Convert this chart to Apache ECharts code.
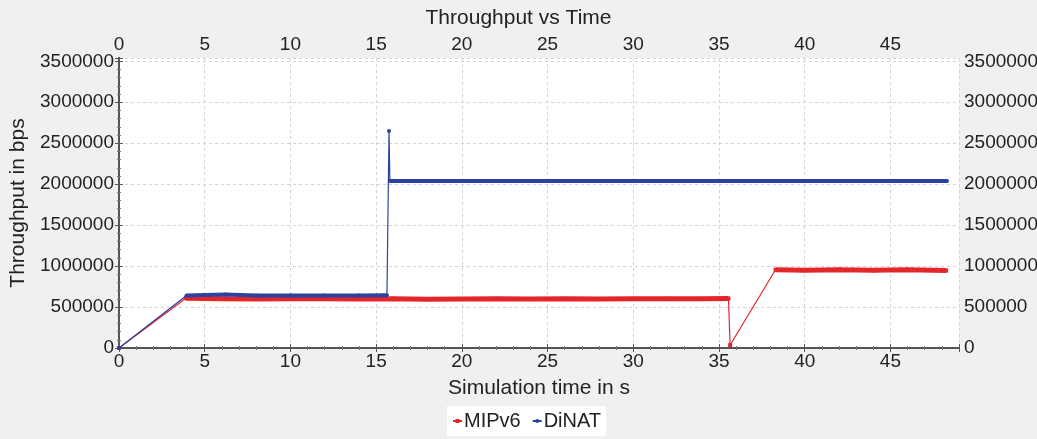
<!DOCTYPE html>
<html>
<head>
<meta charset="utf-8">
<script src="https://cdn.jsdelivr.net/npm/echarts@6/dist/echarts.min.js"></script>
<style>
  html, body { margin: 0; padding: 0; background: #f0f0f0; }
  #main { width: 1037px; height: 439px; }
</style>
</head>
<body>
<div id="main"></div>
<script>
// values
const timeMip = [0, 3.9, 6, 8, 10, 12, 14, 16, 18, 20, 22, 24, 26, 28, 30, 32, 34, 35.55, 35.65, 38.3, 40, 42, 44, 46, 48.25];
const mipv6   = [0, 608000, 600000, 598000, 600000, 602000, 598000, 600000, 596000, 598000, 600000, 597000, 600000, 598000, 600000, 602000, 600000, 605000, 36000, 955000, 950000, 955000, 950000, 955000, 945000];

const timeDinat = [0, 3.94, 6.2, 8, 10, 12, 14, 15.63, 15.75, 15.8, 20, 25, 30, 35, 40, 45, 48.3];
const dinat     = [0, 640000, 652000, 640000, 640000, 640000, 640000, 645000, 2650000, 2040000, 2040000, 2040000, 2040000, 2040000, 2040000, 2040000, 2040000];

// points that are single ramp/spike samples (no thick band there)
const mipSingles = [0, 18];
const dinatSingles = [0, 8];

const RED = '#e4262b';
const BLUE = '#2c42a0';
const FONT = 'Liberation Sans';

function pairs(t, v) { return t.map((x, i) => [x, v[i]]); }
function band(t, v, singles) { return t.map((x, i) => [x, singles.includes(i) ? '-' : v[i]]); }

const xBase = {
    type: 'value', min: 0, max: 49, interval: 5,
    axisLine: { show: true, lineStyle: { color: '#555', width: 2 } },
    axisTick: { show: true, length: 4, lineStyle: { color: '#555' } },
    minorTick: { show: true, splitNumber: 5, length: 2, lineStyle: { color: '#777' } },
    axisLabel: { color: '#222', fontSize: 19, fontFamily: FONT, margin: 4, showMaxLabel: false },
};
const yBase = {
    type: 'value', min: 0, max: 3540000, interval: 500000,
    axisLine: { show: true, lineStyle: { color: '#555', width: 2 } },
    axisTick: { show: true, length: 4, lineStyle: { color: '#555' } },
    minorTick: { show: true, splitNumber: 5, length: 2, lineStyle: { color: '#777' } },
    axisLabel: { color: '#222', fontSize: 19, fontFamily: FONT, margin: 5, showMaxLabel: false, formatter: v => String(v) },
};

let myChart = echarts.init(document.getElementById('main'));
myChart.setOption({
    backgroundColor: '#f0f0f0',
    animation: false,
    title: {
        text: 'Throughput vs Time', left: 'center', top: 3,
        textStyle: { fontSize: 21, fontWeight: 'normal', color: '#222', fontFamily: FONT }
    },
    legend: {
        data: ['MIPv6', 'DiNAT'], top: 406, left: 447,
        backgroundColor: '#fff', padding: [5, 5],
        itemWidth: 9, itemHeight: 5, itemGap: 11,
        textStyle: { fontSize: 20, color: '#222', fontFamily: FONT, padding: [0, 0, 0, -3] }
    },
    grid: { left: 119, right: 78, top: 58, bottom: 91, backgroundColor: '#fff', show: true, borderWidth: 0, outerBoundsMode: 'none', containLabel: false },
    xAxis: [
        Object.assign({}, xBase, {
            position: 'bottom',
            name: 'Simulation time in s', nameLocation: 'middle', nameGap: 30,
            nameTextStyle: { fontSize: 21, color: '#222', fontFamily: FONT },
            splitLine: { show: true, lineStyle: { color: '#d4d4d4', type: [3, 3] } }
        }),
        Object.assign({}, xBase, { position: 'top', splitLine: { show: false } })
    ],
    yAxis: [
        Object.assign({}, yBase, {
            position: 'left',
            name: 'Throughput in bps', nameLocation: 'middle', nameGap: 90, nameRotate: 90,
            nameTextStyle: { fontSize: 21, color: '#222', fontFamily: FONT },
            splitLine: { show: true, lineStyle: { color: '#d4d4d4', type: [3, 3] } }
        }),
        Object.assign({}, yBase, { position: 'right', splitLine: { show: false } })
    ],
    series: [
        {
            name: 'MIPv6', type: 'line', data: pairs(timeMip, mipv6),
            color: RED, symbol: 'rect', symbolSize: 4, showSymbol: true,
            lineStyle: { width: 1.2, color: RED }, z: 3
        },
        {
            name: 'MIPv6 band', type: 'line', data: band(timeMip, mipv6, mipSingles),
            color: RED, showSymbol: false, connectNulls: false,
            lineStyle: { width: 5, color: RED }, z: 3
        },
        {
            name: 'DiNAT', type: 'line', data: pairs(timeDinat, dinat),
            color: BLUE, symbol: 'circle', symbolSize: 4, showSymbol: true,
            lineStyle: { width: 1.2, color: BLUE }, z: 4
        },
        {
            name: 'DiNAT band', type: 'line', data: band(timeDinat, dinat, dinatSingles),
            color: BLUE, showSymbol: false, connectNulls: false,
            lineStyle: { width: 4, color: BLUE }, z: 4
        }
    ]
});
</script>
</body>
</html>
